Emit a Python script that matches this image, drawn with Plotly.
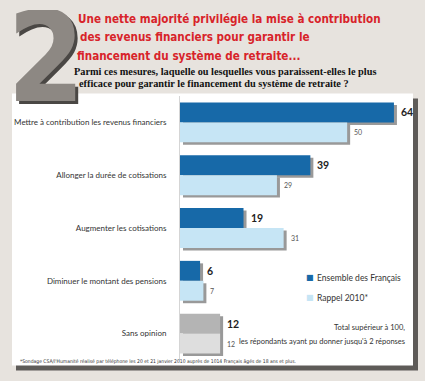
import plotly.graph_objects as go

categories = ["Mettre à contribution les revenus financiers",
              "Allonger la durée de cotisations",
              "Augmenter les cotisations",
              "Diminuer le montant des pensions",
              "Sans opinion"]
ensemble = [64, 39, 19, 6, 12]
rappel_2010 = [50, 29, 31, 7, 12]
series_names = ["Ensemble des Français", "Rappel 2010*"]

dark_colors = ["#1769a8"] * 4 + ["#b4b4b4"]
light_colors = ["#c6e5f5"] * 4 + ["#dedede"]
legend_colors = ["#1769a8", "#c6e5f5"]

W, H = 425, 381
L, R, T, B = 180, 11, 95.5, 20.5
PW, PH = W - L - R, H - T - B
XMAX = 70
SHX, SHY = 3, 2.5  # shadow offset in pixels

def fx(p):
    return (p - L) / PW

def fy(p):
    return (H - B - p) / PH

fig = go.Figure()
for vals in (ensemble, rappel_2010):
    fig.add_trace(go.Bar(
        y=categories, x=vals, orientation="h", showlegend=False,
        marker=dict(color="rgba(70,70,70,0.55)", line=dict(width=0)),
        hoverinfo="skip", xaxis="x", yaxis="y"))
fig.add_trace(go.Bar(
    y=categories, x=ensemble, orientation="h", name=series_names[0],
    marker=dict(color=dark_colors, line=dict(width=0)),
    showlegend=False, xaxis="x2", yaxis="y2"))
fig.add_trace(go.Bar(
    y=categories, x=rappel_2010, orientation="h", name=series_names[1],
    marker=dict(color=light_colors, line=dict(width=0)),
    showlegend=False, xaxis="x2", yaxis="y2"))

narrow = "DejaVu Sans Condensed, Liberation Sans Narrow, sans-serif"

shapes = [
    dict(type="rect", xref="paper", yref="paper", layer="below",
         x0=fx(16), x1=fx(418), y0=fy(371), y1=fy(98),
         fillcolor="#5e5b58", line=dict(width=0)),
    dict(type="rect", xref="paper", yref="paper", layer="below",
         x0=fx(12), x1=fx(413), y0=fy(366), y1=fy(93),
         fillcolor="white", line=dict(width=0)),
]

annotations = []
for cat, v in zip(categories, ensemble):
    annotations.append(dict(
        text="<b>%d</b>" % v, xref="x2", yref="y2", x=v, y=cat,
        xanchor="left", yanchor="middle", xshift=5, yshift=10, showarrow=False,
        font=dict(family="Lato, sans-serif", size=10.5, color="#222")))
for cat, v in zip(categories, rappel_2010):
    annotations.append(dict(
        text="%d" % v, xref="x2", yref="y2", x=v, y=cat,
        xanchor="left", yanchor="middle", xshift=5, yshift=-10, showarrow=False,
        font=dict(family="Lato, sans-serif", size=7, color="#555")))

for dx, col in [(3, "#4a4744"), (0, "#8d8883")]:
    annotations.append(dict(
        text="<b>2</b>", xref="paper", yref="paper",
        x=fx(46 + dx), y=fy(57 + dx), width=60, height=96,
        xanchor="center", yanchor="middle", valign="middle", showarrow=False,
        font=dict(family=narrow, size=124, color=col)))

title_lines = [("Une nette majorité privilégie la mise à contribution", 76, 18.5),
               ("des revenus financiers pour garantir le", 78, 36.5),
               ("financement du système de retraite...", 75, 55)]
for txt, x, y in title_lines:
    annotations.append(dict(
        text="<b>" + txt + "</b>", xref="paper", yref="paper",
        x=fx(x), y=fy(y), xanchor="left", yanchor="middle", showarrow=False,
        font=dict(family=narrow, size=11.6, color="#d8232a")))

sub_lines = [("Parmi ces mesures, laquelle ou lesquelles vous paraissent-elles le plus", 72, 71),
             ("efficace pour garantir le financement du système de retraite ?", 77, 83)]
for txt, x, y in sub_lines:
    annotations.append(dict(
        text="<b>" + txt + "</b>", xref="paper", yref="paper",
        x=fx(x), y=fy(y), xanchor="left", yanchor="middle", showarrow=False,
        font=dict(family="Liberation Serif, serif", size=10.3, color="#111")))

for i, (name, col) in enumerate(zip(series_names, legend_colors)):
    y = 278 + 20 * i
    annotations.append(dict(
        text="■", xref="paper", yref="paper", x=fx(310), y=fy(y),
        xanchor="center", yanchor="middle", showarrow=False,
        font=dict(family="DejaVu Sans, sans-serif", size=8, color=col)))
    annotations.append(dict(
        text=name, xref="paper", yref="paper", x=fx(315), y=fy(y),
        xanchor="left", yanchor="middle", showarrow=False,
        font=dict(family="Lato, sans-serif", size=8.5, color="#333")))

notes = [("Total supérieur à 100,", 328), ("les répondants ayant pu donner jusqu'à 2 réponses", 342)]
for txt, y in notes:
    annotations.append(dict(
        text=txt, xref="paper", yref="paper", x=fx(407), y=fy(y),
        xanchor="right", yanchor="middle", showarrow=False,
        font=dict(family="Lato, sans-serif", size=7.5, color="#333")))

annotations.append(dict(
    text="*Sondage CSA/l'Humanité réalisé par téléphone les 20 et 21 janvier 2010 auprès de 1014 Français âgés de 18 ans et plus.",
    xref="paper", yref="paper", x=fx(18), y=fy(362),
    xanchor="left", yanchor="middle", showarrow=False,
    font=dict(family=narrow, size=5, color="#333")))

dxu = SHX * XMAX / PW
dyu = SHY * 5 / PH

fig.update_layout(
    template="none",
    width=W, height=H,
    margin=dict(l=L, r=R, t=T, b=B, pad=0, autoexpand=False),
    paper_bgcolor="#e7e3de", plot_bgcolor="rgba(0,0,0,0)",
    barmode="group", bargap=0.245, bargroupgap=0,
    showlegend=False,
    shapes=shapes, annotations=annotations,
    xaxis=dict(range=[-dxu, XMAX - dxu], visible=False, fixedrange=True,
               automargin=False),
    yaxis=dict(range=[4.5 - dyu, -0.5 - dyu], visible=False, automargin=False),
    xaxis2=dict(range=[0, XMAX], visible=False, overlaying="x",
                anchor="y2", automargin=False),
    yaxis2=dict(range=[4.5, -0.5], overlaying="y", anchor="x2", side="left",
                showgrid=False, zeroline=False,
                showline=True, linecolor="#d5d5d5", linewidth=1,
                ticks="", ticklabelstandoff=11, automargin=False,
                tickfont=dict(family="Lato, sans-serif", size=8, color="#333")),
)

fig.write_html("out.html",
               config={"displayModeBar": False},
               post_script="document.body.style.margin='0';"
                           "document.body.style.padding='0';"
                           "document.body.style.background='#e7e3de';")
